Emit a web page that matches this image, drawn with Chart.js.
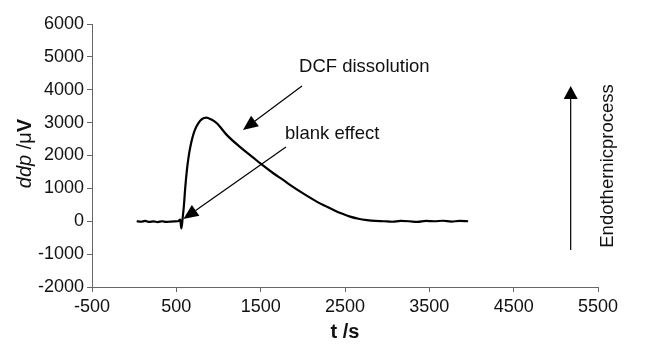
<!DOCTYPE html>
<html>
<head>
<meta charset="utf-8">
<script src="https://cdn.jsdelivr.net/npm/chart.js@4/dist/chart.umd.min.js"></script>
<style>
html,body{margin:0;padding:0;background:#fff;}
#wrap{width:646px;height:344px;position:relative;}
</style>
</head>
<body>
<div id="wrap"><canvas id="c" width="646" height="344"></canvas></div>
<script>
// time (s)
const timeSeconds = [30, 80, 130, 180, 230, 280, 330, 380, 430, 480, 520, 545, 560, 575, 590, 605, 625, 645, 665, 690, 720, 760, 805, 855, 910, 980, 1100, 1250, 1400, 1500, 1650, 1770, 1870, 1970, 2070, 2170, 2270, 2370, 2470, 2560, 2660, 2760, 2860, 2960, 3060, 3160, 3260, 3360, 3460, 3560, 3660, 3760, 3860, 3960];
// ddp (µV)
const ddpValues = [0, -15, 10, -20, -5, -25, 0, -20, -10, -5, 0, 50, -220, 100, 480, 1000, 1550, 1950, 2250, 2530, 2780, 2980, 3110, 3150, 3100, 2980, 2620, 2270, 1960, 1750, 1460, 1250, 1070, 900, 740, 590, 460, 335, 225, 140, 75, 35, 10, 0, -15, 10, 0, -20, 10, 0, 15, -10, 10, 0];
const xTickValues = [-500, 500, 1500, 2500, 3500, 4500, 5500];
const yTickValues = [-2000, -1000, 0, 1000, 2000, 3000, 4000, 5000, 6000];
const xTitle = 't /s';
const annotationTexts = ['DCF dissolution', 'blank effect', 'Endothernicprocess'];

const points = timeSeconds.map((t, i) => ({x: t, y: ddpValues[i]}));
const FONT = '"Liberation Sans", Arial, Helvetica, sans-serif';

function arrow(ctx, x1, y1, x2, y2, len, wid) {
  const ang = Math.atan2(y2 - y1, x2 - x1);
  const bx = x2 - len * Math.cos(ang), by = y2 - len * Math.sin(ang);
  ctx.beginPath();
  ctx.moveTo(x1, y1); ctx.lineTo(bx, by); ctx.stroke();
  ctx.beginPath();
  ctx.moveTo(x2, y2);
  ctx.lineTo(bx + wid / 2 * Math.sin(ang), by - wid / 2 * Math.cos(ang));
  ctx.lineTo(bx - wid / 2 * Math.sin(ang), by + wid / 2 * Math.cos(ang));
  ctx.closePath(); ctx.fill();
}

const annot = {
  id: 'annot',
  afterDraw(chart) {
    const ctx = chart.ctx, xs = chart.scales.x, ys = chart.scales.y;
    const X = v => xs.getPixelForValue(v), Y = v => ys.getPixelForValue(v);
    ctx.save();
    ctx.strokeStyle = '#000'; ctx.fillStyle = '#000'; ctx.lineWidth = 1.2;
    arrow(ctx, X(1990), Y(4114), X(1290), Y(2776), 15, 13);
    arrow(ctx, X(1800), Y(2259), X(583), Y(68), 15, 13);
    arrow(ctx, X(5176), Y(-875), X(5176), Y(4114), 13, 14);
    ctx.font = '18.5px ' + FONT; ctx.fillStyle = '#111';
    ctx.textBaseline = 'middle'; ctx.textAlign = 'left';
    ctx.fillText(annotationTexts[0], X(1955), Y(4701));
    ctx.fillText(annotationTexts[1], X(1789), Y(2645));
    ctx.save();
    ctx.translate(X(5618), Y(1681)); ctx.rotate(-Math.PI / 2);
    ctx.textAlign = 'center';
    ctx.fillText(annotationTexts[2], 0, 0);
    ctx.restore();
    // y title with mixed styles
    const parts = [
      {t: 'ddp', f: 'italic 20px ' + FONT},
      {t: ' /', f: '20px ' + FONT},
      {t: '\u03bc', f: '20px ' + FONT},
      {t: 'V', f: 'bold 20px ' + FONT}
    ];
    let total = 0;
    parts.forEach(p => { ctx.font = p.f; p.w = ctx.measureText(p.t).width; total += p.w; });
    ctx.save();
    ctx.translate(31, (chart.chartArea.top + chart.chartArea.bottom) / 2 - 2);
    ctx.rotate(-Math.PI / 2);
    ctx.textAlign = 'left'; ctx.textBaseline = 'alphabetic';
    let cx = -total / 2;
    parts.forEach(p => { ctx.font = p.f; ctx.fillText(p.t, cx, 0); cx += p.w; });
    ctx.restore();
    ctx.restore();
  }
};

new Chart(document.getElementById('c'), {
  type: 'scatter',
  data: {
    datasets: [{
      data: points,
      showLine: true,
      borderColor: '#000',
      borderWidth: 2.2,
      pointRadius: 0,
      cubicInterpolationMode: 'monotone',
      fill: false
    }]
  },
  options: {
    responsive: false,
    animation: false,
    events: [],
    layout: {padding: {left: 0, right: 48, top: 24, bottom: 0}},
    plugins: {legend: {display: false}, tooltip: {enabled: false}},
    scales: {
      x: {
        type: 'linear', min: -500, max: 5500,
        afterBuildTicks: s => { s.ticks = xTickValues.map(v => ({value: v})); },
        afterFit: s => { s.height = 57; },
        grid: {drawOnChartArea: false, drawTicks: true, tickLength: 5, color: '#666'},
        border: {color: '#666', width: 1},
        ticks: {color: '#111', font: {family: FONT, size: 18}, padding: 4, maxRotation: 0, callback: v => String(v)},
        title: {display: true, text: xTitle, color: '#111', font: {family: FONT, size: 20, weight: 'bold'}, padding: {top: 0, bottom: 0}}
      },
      y: {
        type: 'linear', min: -2000, max: 6000,
        afterBuildTicks: s => { s.ticks = yTickValues.map(v => ({value: v})); },
        afterFit: s => { s.width = 92; },
        grid: {drawOnChartArea: false, drawTicks: true, tickLength: 5, color: '#666'},
        border: {color: '#666', width: 1},
        ticks: {color: '#111', font: {family: FONT, size: 18}, padding: 3, callback: v => String(v)}
      }
    }
  },
  plugins: [annot]
});
</script>
</body>
</html>
